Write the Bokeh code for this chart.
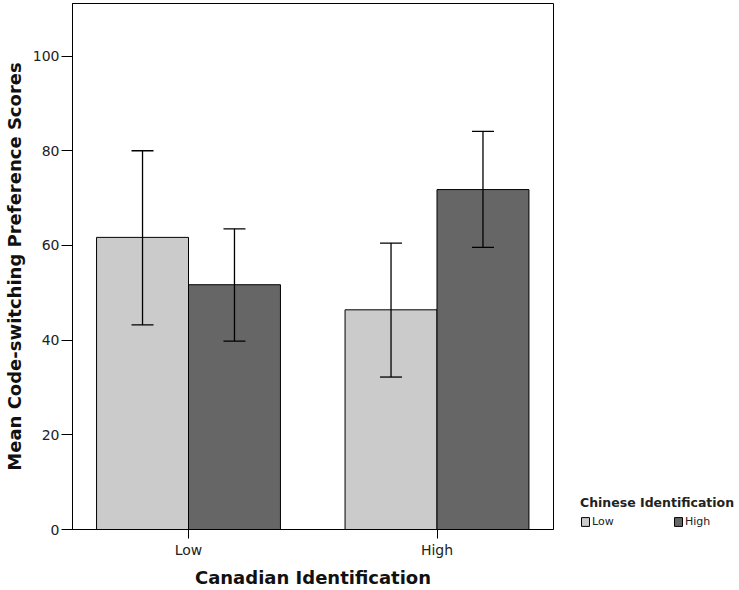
import numpy as np
from bokeh.plotting import figure
from bokeh.layouts import row
from bokeh.models import (ColumnDataSource, FixedTicker, Range1d, Legend, LegendItem,
                          Whisker, TeeHead)
from bokeh.embed import file_html
from bokeh.resources import INLINE

# ---- data ----
canadian = ["Low", "High"]
chinese = ["Low", "High"]
mean_chinese_low = [61.7, 46.4]
mean_chinese_high = [51.7, 71.8]
ci_lo_chinese_low = [43.2, 32.2]
ci_hi_chinese_low = [80.0, 60.5]
ci_lo_chinese_high = [39.8, 59.6]
ci_hi_chinese_high = [63.5, 84.1]
y_ticks = [0, 20, 40, 60, 80, 100]

colors = {"Low": "#cbcbcb", "High": "#666666"}
FONT = "DejaVu Sans"
H = 590

bar_w = 0.37
off = bar_w / 2
grp = list(range(len(canadian)))

p = figure(width=570, height=H, output_backend="svg", toolbar_location=None,
           x_range=Range1d(-0.4668, 1.4688), y_range=Range1d(0, 111.1),
           min_border_left=72, min_border_right=17, min_border_top=3,
           min_border_bottom=60)
p.background_fill_color = "white"
p.border_fill_color = "white"
p.outline_line_color = "black"
p.outline_line_width = 1
p.xgrid.visible = False
p.ygrid.visible = False

series = [
    ("Low", mean_chinese_low, ci_lo_chinese_low, ci_hi_chinese_low, -off),
    ("High", mean_chinese_high, ci_lo_chinese_high, ci_hi_chinese_high, off),
]
for name, means, lo, hi, dx in series:
    src = ColumnDataSource(dict(x=[g + dx for g in grp], top=means, lo=lo, hi=hi))
    p.vbar(x="x", top="top", width=bar_w, bottom=0, source=src,
           fill_color=colors[name], line_color="black", line_width=1)
    w = Whisker(base="x", upper="hi", lower="lo", source=src, dimension="height",
                line_color="black", line_width=1.3, level="annotation",
                upper_head=TeeHead(size=22, line_color="black", line_width=1.3),
                lower_head=TeeHead(size=22, line_color="black", line_width=1.3))
    p.add_layout(w)

# axes
p.xaxis.ticker = FixedTicker(ticks=grp)
p.xaxis.major_label_overrides = {g: c for g, c in zip(grp, canadian)}
p.xaxis.minor_tick_line_color = None
p.xaxis.major_tick_in = 0
p.xaxis.major_tick_out = 9
p.xaxis.major_label_standoff = 3
p.xaxis.axis_label = "Canadian Identification"
p.xaxis.axis_label_standoff = 6

p.yaxis.ticker = FixedTicker(ticks=y_ticks)
p.yaxis.minor_tick_line_color = None
p.yaxis.major_tick_in = 0
p.yaxis.major_tick_out = 11
p.yaxis.major_label_standoff = 2
p.yaxis.axis_label = "Mean Code-switching Preference Scores"
p.yaxis.axis_label_standoff = 5

for ax in (p.xaxis, p.yaxis):
    ax.axis_line_color = "black"
    ax.major_tick_line_color = "black"
    ax.major_label_text_font = FONT
    ax.major_label_text_font_size = "14px"
    ax.major_label_text_color = "#222222"
    ax.axis_label_text_font = FONT
    ax.axis_label_text_font_size = "18px"
    ax.axis_label_text_font_style = "bold"
    ax.axis_label_text_color = "#111111"

# ---- legend panel (separate figure holding only the legend;
#      its legend renderers hold a single undrawable NaN row) ----
leg = figure(width=169, height=H, output_backend="svg", toolbar_location=None,
             x_range=Range1d(0, 1), y_range=Range1d(0, 1),
             x_axis_type=None, y_axis_type=None,
             min_border_left=0, min_border_right=0, min_border_top=0,
             min_border_bottom=0)
leg.outline_line_color = None
leg.xgrid.visible = False
leg.ygrid.visible = False
items = []
for name in chinese:
    nan_src = ColumnDataSource(dict(x=np.array([np.nan]), top=np.array([np.nan])))
    r = leg.vbar(x="x", top="top", width=bar_w, bottom=0, source=nan_src,
                 fill_color=colors[name], line_color="black", line_width=1)
    items.append(LegendItem(label=name, renderers=[r]))

legend = Legend(items=items, orientation="horizontal", location=(10, 1),
                title="Chinese Identification")
legend.title_text_font = FONT
legend.title_text_font_size = "12.5px"
legend.title_text_font_style = "bold"
legend.title_text_color = "#222222"
legend.title_standoff = 5
legend.label_text_font = FONT
legend.label_text_font_size = "11px"
legend.label_text_color = "#222222"
legend.glyph_width = 10
legend.glyph_height = 11
legend.label_standoff = 2
legend.label_width = 30
legend.label_height = 12
legend.spacing = 51
legend.padding = 0
legend.margin = 0
legend.border_line_color = None
legend.background_fill_alpha = 0
leg.add_layout(legend)

layout = row(p, leg)
open("out.html", "w").write(file_html(layout, INLINE))
